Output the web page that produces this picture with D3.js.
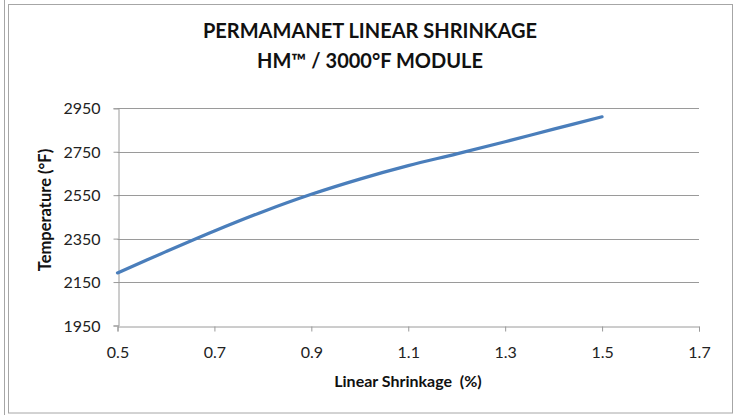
<!DOCTYPE html>
<html><head><meta charset="utf-8">
<script src="https://cdn.jsdelivr.net/npm/d3@7"></script>
<style>body{margin:0;background:#fff}svg{display:block}</style>
</head><body>
<script>
const shrinkage = [0.5, 0.6, 0.7, 0.8, 0.9, 1.0, 1.1, 1.2, 1.3, 1.4, 1.5];
const temperature = [2192, 2290, 2385, 2474, 2554, 2624, 2686, 2740, 2796, 2854, 2911];
const xTicks = [0.5, 0.7, 0.9, 1.1, 1.3, 1.5, 1.7];
const yTicks = [1950, 2150, 2350, 2550, 2750, 2950];
const titleLines = ["PERMAMANET LINEAR SHRINKAGE", "HM\u2122 / 3000\u00b0F MODULE"];

const W = 739, H = 415;
const svg = d3.select("body").append("svg").attr("width", W).attr("height", H);
const font = "Lato, 'Open Sans', sans-serif";

// frame
svg.append("line").attr("x1", 4.5).attr("x2", 4.5).attr("y1", 0).attr("y2", H).attr("stroke", "#a6a6a6");
svg.append("rect").attr("x", 8.5).attr("y", 4.5).attr("width", 724).attr("height", 408.5)
  .attr("fill", "#fff").attr("stroke", "#a6a6a6");

const x = d3.scaleLinear().domain([0.5, 1.7]).range([117.5, 699]);
const y = d3.scaleLinear().domain([1950, 2950]).range([325.5, 108.3]);

// gridlines
svg.append("g").selectAll("line").data(yTicks.slice(1)).join("line")
  .attr("x1", x(0.5)).attr("x2", x(1.7))
  .attr("y1", d => Math.round(y(d)) + 0.5).attr("y2", d => Math.round(y(d)) + 0.5)
  .attr("stroke", "#9a9a9a").attr("stroke-width", 1);

const yAxis = svg.append("g").attr("transform", `translate(${Math.round(x(0.5)) + 0.5},0)`)
  .call(d3.axisLeft(y).tickValues(yTicks).tickSize(5).tickPadding(13).tickFormat(d3.format("d")));
const xAxis = svg.append("g").attr("transform", `translate(0,${Math.round(y(1950)) + 0.5})`)
  .call(d3.axisBottom(x).tickValues(xTicks).tickSize(5).tickPadding(15).tickFormat(d3.format(".1f")));
[xAxis, yAxis].forEach(a => {
  a.select(".domain").attr("stroke", "#9a9a9a");
  a.selectAll(".tick line").attr("stroke", "#9a9a9a");
  a.selectAll("text").attr("font-family", font).attr("font-size", 16).attr("fill", "#222");
});
yAxis.selectAll("text").attr("dy", "0.35em");

// series
const pts = shrinkage.map((v, i) => [v, temperature[i]]);
svg.append("path").datum(pts)
  .attr("d", d3.line().x(d => x(d[0])).y(d => y(d[1])).curve(d3.curveCatmullRom))
  .attr("fill", "none").attr("stroke", "#4a7ebb").attr("stroke-width", 3.2).attr("stroke-linecap", "round");

// titles
svg.append("g").selectAll("text").data(titleLines).join("text")
  .attr("x", 370).attr("y", (d, i) => 38 + i * 30)
  .attr("text-anchor", "middle").attr("font-family", font).attr("font-weight", "bold")
  .attr("font-size", 20).attr("fill", "#111").text(d => d);

svg.append("text").attr("x", 408).attr("y", 387).attr("text-anchor", "middle")
  .attr("font-family", font).attr("font-weight", "bold").attr("font-size", 16).attr("fill", "#111")
  .text("Linear Shrinkage\u00a0 (%)");

svg.append("text").attr("transform", "translate(51,210) rotate(-90)").attr("text-anchor", "middle")
  .attr("font-family", font).attr("font-weight", "bold").attr("font-size", 16.5).attr("fill", "#111")
  .text("Temperature (\u00b0F)");
</script>
</body></html>
